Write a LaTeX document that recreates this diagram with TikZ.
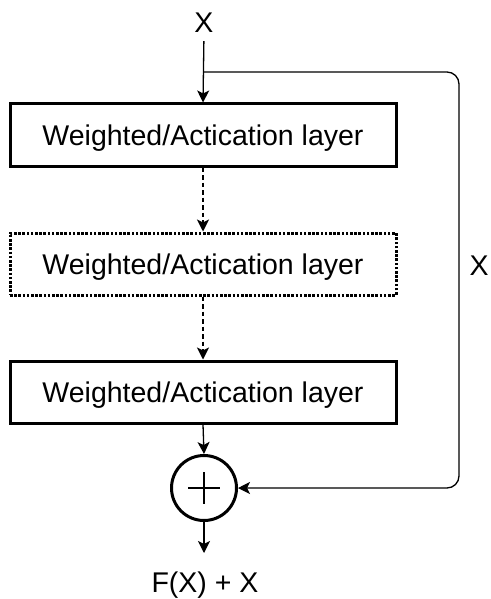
\documentclass[tikz,border=0pt]{standalone}
\usepackage{fontspec}
\setmainfont{Liberation Sans}
\usetikzlibrary{arrows.meta}
\begin{document}
\begin{tikzpicture}[x=1pt,y=-1pt,
  every node/.style={font=\fontsize{28.5}{34}\selectfont},
  layer/.style={draw,line width=3pt,minimum width=386pt,minimum height=62pt,
    inner sep=0pt,text height=20.4pt,text depth=0pt},
  optlayer/.style={layer,dash pattern=on 2.6pt off 1.6pt},
  flow/.style={line width=1.3pt,-{Stealth[length=12pt,width=12pt,inset=3pt]}},
  dflow/.style={flow,dash pattern=on 4.5pt off 3pt},
  lbl/.style={inner sep=0pt,anchor=base}]
  \useasboundingbox (0,0) rectangle (490,599);
  % labels
  \node[lbl] (xin) at (204,33) {X};
  \node[lbl] (xside) at (479,275) {X};
  \node[lbl] (out) at (205,592) {F(X) + X};
  % layer stack
  \node[layer] (b1) at (203,135) {Weighted/Actication layer};
  \node[optlayer] (b2) at (203,264) {Weighted/Actication layer};
  \node[layer] (b3) at (203,392) {Weighted/Actication layer};
  % summation junction
  \node[draw,circle,line width=3pt,minimum size=65pt,inner sep=0pt] (sum) at (204,488) {};
  \draw[line width=1.3pt] (sum.center) +(-16,0) -- +(16,0)
        (sum.center) +(0,-16) -- +(0,16);
  \coordinate (split) at (204,72);
  \coordinate (outend) at (204,553);
  % connectors
  \draw[flow,shorten <=8pt] (xin.south) -- (b1.north);
  \draw[dflow] (b1.south) -- (b2.north);
  \draw[dflow] (b2.south) -- (b3.north);
  \draw[flow] (b3.south) -- (sum.north);
  \draw[flow,rounded corners=12pt] (split) -| (459,488) -- (sum.east);
  \draw[flow] (sum.south) -- (outend);
\end{tikzpicture}
\end{document}
